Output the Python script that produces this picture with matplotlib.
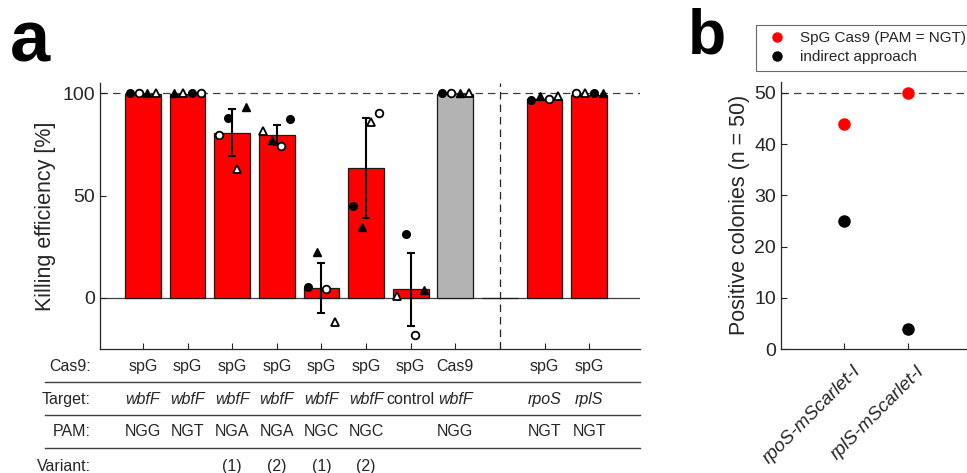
import matplotlib
matplotlib.use('Agg')
import matplotlib.pyplot as plt
import matplotlib.transforms as mtransforms
import numpy as np
from matplotlib.lines import Line2D

plt.rcParams['font.family'] = ['Liberation Sans', 'DejaVu Sans']
TXT = '#262626'

# ---------------- data: panel a ----------------
positions = [1, 2, 3, 4, 5, 6, 7, 8, 9, 10, 11]
bar_values = [99.5, 99.5, 80.8, 79.8, 5.0, 63.4, 4.2, 99.5, 0.0, 97.0, 99.2]
bar_is_control = [False, False, False, False, False, False, False, True, False, False, False]
err_values = [0, 0, 11.6, 4.9, 12.2, 24.4, 17.8, 0, 0, 0, 0]

nan = np.nan
rep_filled_circle = [100, 100, 88.0, 87.2, 5.5, 45.0, 31.2, 100, nan, 96.6, 100]
rep_open_circle = [100, 100, 79.4, 74.1, 4.4, 90.1, -18.4, 100, nan, 97.1, 100]
rep_filled_tri = [100, 100, 93.5, 77.0, 22.6, 34.5, 3.8, 100, nan, 98.5, 100]
rep_open_tri = [100, 100, 63.0, 81.6, -11.9, 85.7, 1.0, 100, nan, 98.5, 100]

# horizontal jitter of the replicate markers within each bar
off_filled_circle = [-0.3, 0.1, -0.1, 0.3, -0.3, -0.3, -0.1, -0.3, 0, -0.3, 0.1]
off_open_circle = [-0.1, 0.3, -0.3, 0.1, 0.1, 0.3, 0.1, -0.1, 0, 0.1, -0.3]
off_filled_tri = [0.1, -0.3, 0.3, -0.1, -0.1, -0.1, 0.3, 0.1, 0, -0.1, 0.3]
off_open_tri = [0.3, -0.1, 0.1, -0.3, 0.3, 0.1, -0.3, 0.3, 0, 0.3, -0.1]

row_labels = ['Cas9:', 'Target:', 'PAM:', 'Variant:']
row_cas9 = ['spG', 'spG', 'spG', 'spG', 'spG', 'spG', 'spG', 'Cas9', '', 'spG', 'spG']
row_target = ['wbfF', 'wbfF', 'wbfF', 'wbfF', 'wbfF', 'wbfF', 'control', 'wbfF', '', 'rpoS', 'rplS']
row_pam = ['NGG', 'NGT', 'NGA', 'NGA', 'NGC', 'NGC', '', 'NGG', '', 'NGT', 'NGT']
row_variant = ['', '', '(1)', '(2)', '(1)', '(2)', '', '', '', '', '']

# ---------------- data: panel b ----------------
b_categories = ['rpoS-mScarlet-I', 'rplS-mScarlet-I']
b_spg = [44, 50]
b_indirect = [25, 4]

W, H = 967, 473
fig = plt.figure(figsize=(W / 100, H / 100), dpi=100)

# ---------------- panel a ----------------
ax = fig.add_axes([100 / W, 1 - 349 / H, 540 / W, 266 / H])
ax.set_xlim(0.036, 12.14)
ax.set_ylim(-25, 105)
colors = ['#b3b3b3' if c else '#ff0000' for c in bar_is_control]
ax.bar(positions, bar_values, width=0.8, color=colors, edgecolor='#1a1a1a',
       linewidth=0.9, zorder=2)
ax.axhline(0, color='#404040', lw=0.9, zorder=1)
ax.axhline(100, color='#404040', lw=0.9, ls=(0, (6, 4)), zorder=1)
ax.axvline(9, color='#262626', lw=0.9, ls=(0, (6, 4)), zorder=1)

for p, v, e in zip(positions, bar_values, err_values):
    if e > 0:
        ax.errorbar(p, v, yerr=e, fmt='none', ecolor='black', elinewidth=1.5,
                    capsize=2.6, capthick=1.5, zorder=4)

px = np.array(positions, dtype=float)
ax.plot(px + np.array(off_filled_circle), rep_filled_circle, 'o', ms=5.5,
        mfc='black', mec='black', ls='none', zorder=5)
ax.plot(px + np.array(off_open_circle), rep_open_circle, 'o', ms=5.5,
        mfc='white', mec='black', mew=1.3, ls='none', zorder=5)
ax.plot(px + np.array(off_filled_tri), rep_filled_tri, '^', ms=6,
        mfc='black', mec='black', ls='none', zorder=5)
ax.plot(px + np.array(off_open_tri), rep_open_tri, '^', ms=6,
        mfc='white', mec='black', mew=1.3, ls='none', zorder=5)

for s in ['top', 'right']:
    ax.spines[s].set_visible(False)
for s in ['left', 'bottom']:
    ax.spines[s].set_color('#262626')
    ax.spines[s].set_linewidth(0.9)
ax.set_yticks([0, 50, 100])
ax.set_xticks(positions)
ax.set_xticklabels([])
ax.tick_params(direction='in', length=4, width=0.8, colors='#262626',
               labelsize=14, labelcolor=TXT)
ax.set_ylabel('Killing efficiency [%]', fontsize=15.5, color=TXT, labelpad=5)

# table below panel a
trans = mtransforms.blended_transform_factory(ax.transData, fig.transFigure)
row_y = [1 - 366 / H, 1 - 399 / H, 1 - 431 / H, 1 - 466 / H]
rows = [row_cas9, row_target, row_pam, row_variant]
for label, y in zip(row_labels, row_y):
    fig.text(91 / W, y, label, ha='right', va='center', fontsize=11.5, color=TXT)
for r, (row, y) in enumerate(zip(rows, row_y)):
    for p, t in zip(positions, row):
        if not t:
            continue
        style = 'italic' if (r == 1 and t != 'control') else 'normal'
        ax.text(p, y, t, transform=trans, ha='center', va='center',
                fontsize=11.5, color=TXT, style=style, clip_on=False)
for yl in [382, 415, 448]:
    fig.add_artist(Line2D([45 / W, 640 / W], [1 - yl / H, 1 - yl / H],
                          transform=fig.transFigure, color='#404040', lw=1.0))

fig.text(10 / W, 1 - 62 / H, 'a', fontsize=52, fontweight='bold', ha='left',
         va='baseline', color='black')

# ---------------- panel b ----------------
bx = fig.add_axes([781 / W, 1 - 349 / H, 190 / W, 267.5 / H])
bpos = [1, 2]
bx.set_xlim(0, 3)
bx.set_ylim(0, 52.2)
bx.axhline(50, color='#404040', lw=0.9, ls=(0, (6, 4)), zorder=1)
bx.plot(bpos, b_spg, 'o', ms=8, color='#ff0000', ls='none', zorder=3,
        label='SpG Cas9 (PAM = NGT)')
bx.plot(bpos, b_indirect, 'o', ms=8, color='black', ls='none', zorder=3,
        label='indirect approach')
for s in ['top', 'right']:
    bx.spines[s].set_visible(False)
for s in ['left', 'bottom']:
    bx.spines[s].set_color('#262626')
    bx.spines[s].set_linewidth(0.9)
bx.set_yticks([0, 10, 20, 30, 40, 50])
bx.set_xticks(bpos)
bx.set_xticklabels(b_categories, rotation=45, ha='right', va='top',
                   rotation_mode='anchor', style='italic', fontsize=13.5,
                   color=TXT)
bx.tick_params(direction='in', length=4, width=0.8, colors='#262626',
               labelsize=14, labelcolor=TXT)
bx.tick_params(axis='x', labelsize=13.5, pad=4)
offset = mtransforms.ScaledTranslation(8 / 100, -8 / 100, fig.dpi_scale_trans)
for lbl in bx.get_xticklabels():
    lbl.set_transform(lbl.get_transform() + offset)
bx.set_ylabel('Positive colonies (n = 50)', fontsize=15.5, color=TXT, labelpad=3)

handles = [Line2D([], [], marker='o', ms=6.5, color='#ff0000', ls='none'),
           Line2D([], [], marker='o', ms=6.5, color='black', ls='none')]
leg = fig.legend(handles, ['SpG Cas9 (PAM = NGT)', 'indirect approach'],
                 loc='upper left', bbox_to_anchor=(756 / W, 1 - 25 / H),
                 fontsize=11, frameon=True, fancybox=False, borderpad=0.4,
                 labelspacing=0.35, handletextpad=0.45, borderaxespad=0,
                 handlelength=2.0)
leg.get_frame().set_edgecolor('#444444')
leg.get_frame().set_linewidth(0.8)
for t in leg.get_texts():
    t.set_color(TXT)

fig.text(688 / W, 1 - 53 / H, 'b', fontsize=45, fontweight='bold', ha='left',
         va='baseline', color='black')

fig.savefig('out.png', dpi=100)
